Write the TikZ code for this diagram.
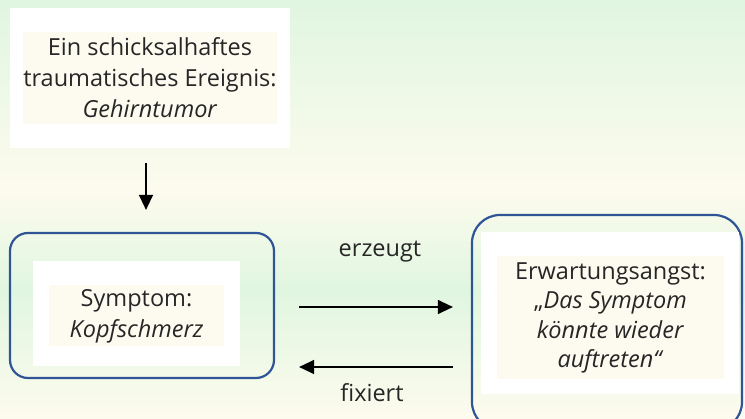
\documentclass[tikz,border=0pt]{standalone}
\usepackage{fontspec}
\setmainfont{Open Sans}
\usetikzlibrary{positioning}
\usetikzlibrary{arrows.meta}
\usetikzlibrary{calc}

\definecolor{bggreen}{RGB}{224,246,224}
\definecolor{bgcream}{RGB}{253,251,238}
\definecolor{boxcream}{RGB}{253,251,240}
\definecolor{frameblue}{RGB}{47,85,151}

\begin{document}
\begin{tikzpicture}[x=1pt,y=1pt,>={Triangle[length=15pt,width=14pt]},
                    font=\fontsize{23.5}{31}\selectfont,
                    white box/.style={rectangle,fill=white,inner sep=0pt},
                    cream box/.style={rectangle,fill=boxcream,inner sep=0pt,align=center,text=black!85},
                    frame box/.style={rectangle,rounded corners=18pt,draw=frameblue,line width=2.2pt,inner sep=0pt},
                    flow/.style={->,line width=1.3pt}]
      \clip (0,0) rectangle (745,-419);
      % background bands
      \shade[top color=bggreen, bottom color=bgcream] (0,0) rectangle (745,-190);
      \shade[top color=bgcream, bottom color=bggreen] (0,-190) rectangle (745,-290);
      \shade[top color=bggreen, bottom color=bgcream] (0,-290) rectangle (745,-419);

      \node[white box, minimum width=280pt, minimum height=140pt] (eventbg) at (150,-78) {};
      \node[cream box, minimum width=248pt, minimum height=92pt] (event) at (eventbg)
            {Ein schicksalhaftes\\traumatisches Ereignis:\\\textit{Gehirntumor}};

      \node[frame box, minimum width=264pt, minimum height=145pt] (symframe) at (142,-305.5) {};
      \node[white box, minimum width=207pt, minimum height=105pt] (symbg) at (136.5,-313.5) {};
      \node[cream box, minimum width=175pt, minimum height=61pt] (symptom) at (136.5,-316) 
            {Symptom:\\\textit{Kopfschmerz}};

      \node[frame box, rounded corners=28pt, minimum width=270pt, minimum height=215pt] (angstframe) at (607,-322.5) {};
      \node[white box, minimum width=258pt, minimum height=162pt] (angstbg) at (610,-313) {};
      \node[cream box, minimum width=227pt, minimum height=123pt, font=\fontsize{23.5}{29.5}\selectfont] (angst) at (610.5,-318)
            {Erwartungsangst:\\„\textit{Das Symptom}\\\textit{könnte wieder}\\\textit{auftreten“}};

      \draw[flow, shorten <=15pt, shorten >=22pt] ([xshift=-4pt]eventbg.south) -- ([xshift=-4pt]eventbg.south |- symframe.north);
      \draw[flow, shorten <=24pt, shorten >=18pt] ([yshift=-1.5pt]symframe.east) -- ([yshift=-1.5pt]symframe.east -| angstframe.west);
      \draw[flow, shorten <=18pt, shorten >=24pt] ([yshift=-61.5pt]symframe.east -| angstframe.west) -- ([yshift=-61.5pt]symframe.east);

      \node[text=black!85] (erzeugt) at (380,-252) {erzeugt};
      \node[text=black!85] (fixiert) at (372,-393) {fixiert};
\end{tikzpicture}
\end{document}
